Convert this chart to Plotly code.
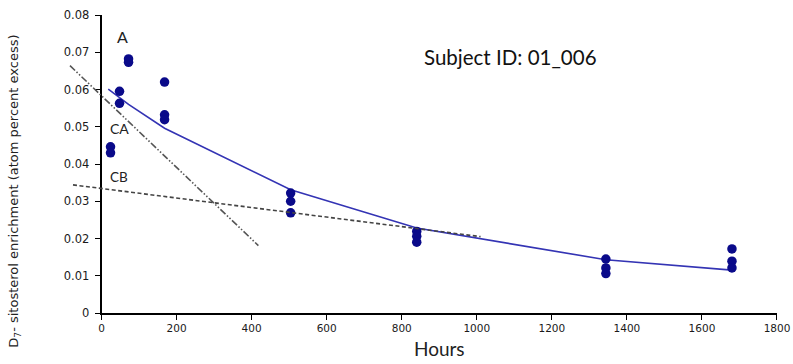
import plotly.graph_objects as go

# ---- data ----
obs_hours = [24, 24, 48, 48, 72, 72, 168, 168, 168,
             504, 504, 504, 840, 840, 840, 1344, 1344, 1344, 1680, 1680, 1680]
obs_enrich = [0.0446, 0.0430, 0.0595, 0.0563, 0.0682, 0.0673, 0.0620, 0.0532, 0.0519,
              0.0322, 0.0300, 0.0269, 0.0219, 0.0206, 0.0190, 0.0145, 0.0121, 0.0106,
              0.0172, 0.0139, 0.0121]

fit_hours = [18, 48, 72, 168, 504, 840, 1344, 1680]
fit_enrich = [0.0601, 0.0578, 0.0560, 0.0496, 0.0331, 0.0228, 0.0143, 0.0115]

ca_hours = [-84, 418]
ca_enrich = [0.0664, 0.0181]

cb_hours = [-76, 1010]
cb_enrich = [0.0344, 0.0205]

x_ticks = [0, 200, 400, 600, 800, 1000, 1200, 1400, 1600, 1800]
y_ticks = [0, 0.01, 0.02, 0.03, 0.04, 0.05, 0.06, 0.07, 0.08]
y_tick_labels = ["0", "0.01", "0.02", "0.03", "0.04", "0.05", "0.06", "0.07", "0.08"]

# ---- geometry ----
W, H = 793, 364
ML, MT = 60, 15
x0_px = 101.5
x_end_px = 776.7
y_bot_px = 313.5
MR = W - x_end_px
MB = H - y_bot_px
plot_w = W - ML - MR
plot_h = H - MT - MB
d0 = (x0_px - ML) / plot_w
x_max = 1800
scale = (x_end_px - x0_px) / x_max
x2_left = -(x0_px - ML) / scale

x_tick_font = dict(family="DejaVu Sans", size=10.5, color="#1a1a1a")
y_tick_font = dict(family="DejaVu Sans", size=11.5, color="#1a1a1a")

fig = go.Figure()

fig.add_trace(go.Scatter(x=ca_hours, y=ca_enrich, mode="lines", xaxis="x2", yaxis="y",
                         line=dict(color="#555555", width=1.6, dash="7px,2px,1.5px,2px,1.5px,2px"),
                         showlegend=False, hoverinfo="skip"))
fig.add_trace(go.Scatter(x=cb_hours, y=cb_enrich, mode="lines", xaxis="x2", yaxis="y",
                         line=dict(color="#444444", width=1.6, dash="4px,2.5px"),
                         showlegend=False, hoverinfo="skip"))
fig.add_trace(go.Scatter(x=fit_hours, y=fit_enrich, mode="lines",
                         line=dict(color="#3434B4", width=1.6),
                         showlegend=False))
fig.add_trace(go.Scatter(x=obs_hours, y=obs_enrich, mode="markers",
                         marker=dict(color="#0A0A8A", size=9.5),
                         showlegend=False))

fig.update_layout(
    width=W, height=H,
    margin=dict(l=ML, r=MR, t=MT, b=MB, autoexpand=False),
    paper_bgcolor="white", plot_bgcolor="rgba(0,0,0,0)",
    xaxis=dict(domain=[d0, 1], range=[0, x_max], tickvals=x_ticks,
               showline=True, linecolor="black", linewidth=1.6,
               ticks="outside", ticklen=5, tickwidth=1.3, tickcolor="black",
               showgrid=False, zeroline=False, tickfont=x_tick_font,
               title=dict(text="Hours", font=dict(family="Lato", size=19, color="#222222"), standoff=9),
               anchor="y", automargin=False),
    xaxis2=dict(domain=[0, 1], range=[x2_left, x_max], visible=False, anchor="y",
                showgrid=False, zeroline=False),
    yaxis=dict(domain=[0, 1], range=[0, 0.08], tickvals=y_ticks, ticktext=y_tick_labels,
               showline=True, linecolor="black", linewidth=1.6,
               ticks="outside", ticklen=5, tickwidth=1.3, tickcolor="black",
               ticklabelstandoff=3,
               showgrid=False, zeroline=False, tickfont=y_tick_font, anchor="x", automargin=False),
    annotations=[
        dict(text="D<sub>7</sub>- sitosterol enrichment (atom percent excess)", textangle=-90,
             xref="paper", yref="paper", x=(15 - ML) / plot_w,
             y=(y_bot_px - 191) / plot_h,
             showarrow=False, xanchor="center", yanchor="middle",
             font=dict(family="DejaVu Sans", size=13, color="#222222")),
        dict(text="Subject ID: 01_006", x=1091, y=0.0687, xref="x", yref="y", showarrow=False,
             font=dict(family="Lato", size=20.5, color="#111111")),
        dict(text="A", x=57, y=0.0743, xref="x", yref="y", showarrow=False,
             font=dict(family="Lato", size=16, color="#222222")),
        dict(text="CA", x=17, y=0.0495, xref="x", yref="y", showarrow=False, xanchor="left",
             font=dict(family="Lato", size=14, color="#222222")),
        dict(text="CB", x=17, y=0.0366, xref="x", yref="y", showarrow=False, xanchor="left",
             font=dict(family="Lato", size=13.5, color="#222222")),
    ],
)

fig.write_html("out.html", config={"displayModeBar": False},
               post_script="document.body.style.margin='0';document.body.style.overflow='hidden';")
